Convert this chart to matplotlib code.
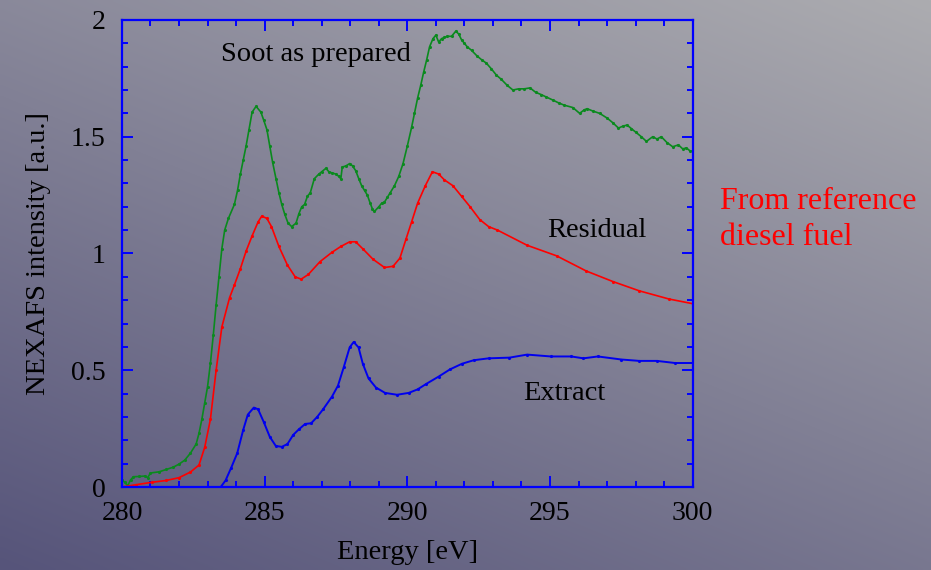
import numpy as np
import matplotlib
matplotlib.use('Agg')
import matplotlib.pyplot as pl
from matplotlib.ticker import MultipleLocator

pl.rcParams['font.family'] = ['Liberation Serif', 'DejaVu Serif']

#--------------------------------------------------------------------------------------------
# spectra [eV, a.u.]

eSoot = [280.0, 280.1, 280.2, 280.3, 280.4, 280.6, 280.8, 280.9, 281.0, 281.3, 281.55, 281.8,
         282.0, 282.2, 282.4, 282.6, 282.7, 282.8, 282.9, 283.0, 283.1, 283.2, 283.3, 283.4,
         283.5, 283.6, 283.73, 283.94, 284.05, 284.15, 284.25, 284.35, 284.45, 284.56, 284.7,
         284.87, 284.97, 285.08, 285.18, 285.28, 285.4, 285.5, 285.6, 285.7, 285.82, 285.95,
         286.1, 286.2, 286.3, 286.4, 286.5, 286.6, 286.74, 286.9, 287.0, 287.15, 287.25, 287.36,
         287.5, 287.6, 287.67, 287.72, 287.85, 287.98, 288.08, 288.19, 288.3, 288.4, 288.5,
         288.6, 288.7, 288.78, 288.85, 289.0, 289.1, 289.2, 289.3, 289.4, 289.55, 289.7, 289.85,
         290.0, 290.15, 290.25, 290.36, 290.47, 290.57, 290.68, 290.78, 290.9, 291.0, 291.1,
         291.2, 291.3, 291.4, 291.55, 291.7, 291.8, 291.9, 292.0, 292.1, 292.25, 292.45, 292.6,
         292.77, 292.95, 293.12, 293.3, 293.5, 293.7, 293.9, 294.1, 294.3, 294.5, 294.7, 294.87,
         295.1, 295.3, 295.5, 295.8, 296.04, 296.2, 296.3, 296.5, 296.74, 297.0, 297.2, 297.4,
         297.55, 297.7, 297.85, 298.0, 298.2, 298.38, 298.6, 298.75, 298.9, 299.1, 299.3, 299.5,
         299.65, 299.78, 299.9, 300.0]
iSoot = [0.03, 0.02, 0.005, 0.03, 0.044, 0.045, 0.047, 0.04, 0.06, 0.065, 0.075, 0.085,
         0.098, 0.115, 0.145, 0.184, 0.23, 0.29, 0.36, 0.43, 0.53, 0.65, 0.78, 0.90,
         1.02, 1.10, 1.15, 1.21, 1.27, 1.34, 1.40, 1.46, 1.53, 1.605, 1.63,
         1.605, 1.57, 1.53, 1.46, 1.39, 1.32, 1.26, 1.21, 1.17, 1.13, 1.115,
         1.13, 1.17, 1.20, 1.21, 1.245, 1.26, 1.32, 1.34, 1.35, 1.365, 1.35, 1.345,
         1.34, 1.33, 1.32, 1.37, 1.375, 1.385, 1.375, 1.355, 1.32, 1.29, 1.27,
         1.25, 1.215, 1.19, 1.18, 1.20, 1.215, 1.22, 1.24, 1.26, 1.29, 1.33, 1.385,
         1.46, 1.54, 1.60, 1.665, 1.72, 1.775, 1.83, 1.885, 1.92, 1.935, 1.905,
         1.92, 1.925, 1.93, 1.93, 1.952, 1.94, 1.915, 1.90, 1.885, 1.87, 1.845, 1.83,
         1.815, 1.79, 1.764, 1.745, 1.72, 1.70, 1.705, 1.705, 1.709, 1.69, 1.68, 1.67,
         1.657, 1.645, 1.635, 1.625, 1.60, 1.615, 1.62, 1.61, 1.60, 1.58, 1.56, 1.537,
         1.545, 1.55, 1.535, 1.52, 1.50, 1.48, 1.50, 1.49, 1.50, 1.475, 1.457, 1.465,
         1.448, 1.452, 1.44, 1.437]

eResid = [280.0, 280.5, 281.04, 281.55, 282.0, 282.4, 282.7, 282.9, 283.1, 283.3, 283.5, 283.77,
          283.94, 284.15, 284.35, 284.56, 284.77, 284.9, 285.08, 285.24, 285.5, 285.8, 286.07,
          286.28, 286.53, 286.94, 287.36, 287.67, 287.98, 288.19, 288.44, 288.8, 289.2, 289.5,
          289.74, 289.95, 290.15, 290.36, 290.63, 290.88, 291.1, 291.3, 291.6, 291.9, 292.2,
          292.54, 292.85, 293.16, 294.2, 295.23, 296.27, 297.2, 298.13, 299.17, 300.0]
iResid = [0.0, 0.01, 0.02, 0.028, 0.04, 0.064, 0.094, 0.17, 0.29, 0.50, 0.685, 0.81,
          0.865, 0.935, 1.01, 1.075, 1.135, 1.16, 1.15, 1.115, 1.03, 0.95, 0.90,
          0.89, 0.91, 0.965, 1.005, 1.03, 1.05, 1.05, 1.02, 0.975, 0.94, 0.945,
          0.98, 1.06, 1.135, 1.215, 1.29, 1.35, 1.34, 1.315, 1.29, 1.245, 1.20,
          1.145, 1.115, 1.10, 1.035, 0.99, 0.925, 0.88, 0.84, 0.805, 0.785]

eExtr = [283.46, 283.63, 283.83, 284.04, 284.25, 284.41, 284.62, 284.77, 284.97, 285.18, 285.39,
         285.6, 285.8, 286.0, 286.2, 286.42, 286.63, 286.84, 287.05, 287.36, 287.57, 287.77,
         287.98, 288.12, 288.29, 288.44, 288.64, 288.9, 289.22, 289.64, 290.05, 290.36, 290.67,
         291.1, 291.5, 291.92, 292.33, 292.85, 293.58, 294.2, 295.03, 295.75, 296.17, 296.68,
         297.5, 298.13, 298.75, 299.38, 300.0]
iExtr = [0.0, 0.028, 0.083, 0.145, 0.245, 0.31, 0.34, 0.333, 0.278, 0.215, 0.176,
         0.172, 0.184, 0.223, 0.247, 0.27, 0.273, 0.30, 0.333, 0.387, 0.434, 0.512,
         0.598, 0.621, 0.598, 0.528, 0.465, 0.426, 0.403, 0.395, 0.403, 0.418, 0.442,
         0.473, 0.504, 0.528, 0.543, 0.551, 0.554, 0.567, 0.559, 0.559, 0.551, 0.559,
         0.546, 0.54, 0.54, 0.531, 0.531]

#--------------------------------------------------------------------------------------------

fig1 = pl.figure(figsize=(9.31, 5.70), dpi=100)

# shaded backdrop
axbg = fig1.add_axes([0, 0, 1, 1], zorder=-10)
uu, vv = np.meshgrid(np.linspace(0., 1., 200), np.linspace(1., 0., 200))
ss = np.clip(0.40*uu + 0.60*vv, 0., 1.)
cLo = np.array([86., 84., 122.]) / 255.
cHi = np.array([172., 172., 176.]) / 255.
img = cLo[None, None, :] + ss[:, :, None]*(cHi - cLo)[None, None, :]
axbg.imshow(img, aspect='auto', extent=[0, 1, 0, 1], interpolation='bilinear')
axbg.axis('off')

ax11 = fig1.add_axes([0.131, 0.1456, 0.613, 0.8194])
ax11.patch.set_alpha(0.)

ax11.plot(eSoot, iSoot, '-', color='#0a8a1e', lw=1.2, marker='.', ms=2.5)
ax11.plot(eResid, iResid, '-', color='#ff0000', lw=1.2, marker='.', ms=2.5)
ax11.plot(eExtr, iExtr, '-', color='#0000ee', lw=1.4, marker='.', ms=2.5)

ax11.set_xlim([280., 300.])
ax11.set_ylim([0., 2.])
ax11.xaxis.set_major_locator(MultipleLocator(5))
ax11.xaxis.set_minor_locator(MultipleLocator(1))
ax11.yaxis.set_major_locator(MultipleLocator(0.5))
ax11.yaxis.set_minor_locator(MultipleLocator(0.1))
ax11.yaxis.set_major_formatter(pl.FuncFormatter(lambda v, p: '%g' % v))

for sp in ax11.spines.values():
    sp.set_color('#0000ff')
    sp.set_linewidth(1.6)
ax11.tick_params(which='both', direction='in', top=True, right=True, color='#0000ff',
                 width=1.4, labelsize=20, labelcolor='black')
ax11.tick_params(which='major', length=8)
ax11.tick_params(which='minor', length=4.5)
ax11.tick_params(axis='x', which='major', pad=10)
ax11.tick_params(axis='y', which='major', pad=12)

ax11.set_xlabel('Energy [eV]', fontsize=20.5, labelpad=10)
ax11.set_ylabel('NEXAFS intensity [a.u.]', fontsize=20.5, labelpad=14)

ax11.text(286.8, 1.85, 'Soot as prepared', fontsize=20.5, ha='center', va='center')
ax11.text(296.64, 1.10, 'Residual', fontsize=20.5, ha='center', va='center')
ax11.text(295.5, 0.40, 'Extract', fontsize=20.5, ha='center', va='center')

fig1.text(720./931, 1 - 187./570, 'From reference\ndiesel fuel', color='#ff0000',
          fontsize=23, ha='left', va='top', linespacing=1.3)

fig1.savefig('out.png', dpi=100)
